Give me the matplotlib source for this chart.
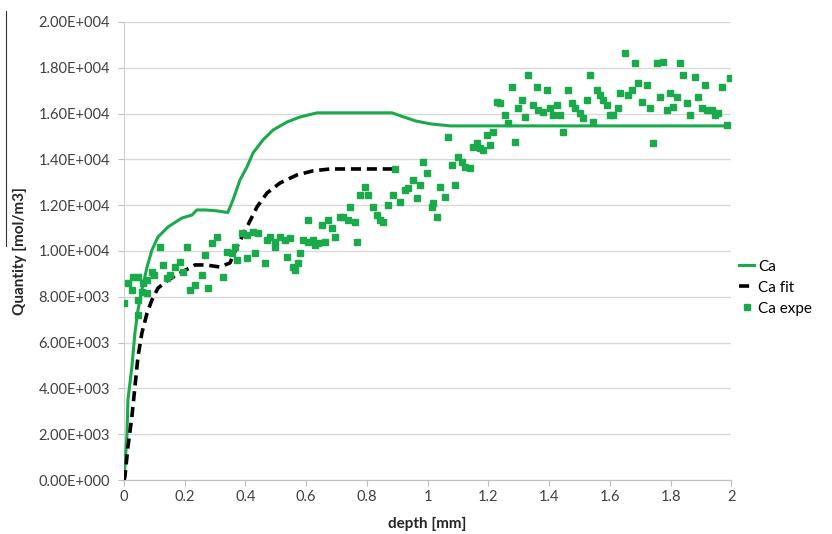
import matplotlib
matplotlib.use('Agg')
import matplotlib.pyplot as plt
from matplotlib.lines import Line2D
from matplotlib.ticker import FuncFormatter

plt.rcParams['font.family'] = ['Lato', 'DejaVu Sans']

# ---- data ----
# Ca : simulated profile
ca_x = [0.0, 0.005, 0.01, 0.013, 0.026, 0.036, 0.046, 0.059, 0.076, 0.092, 0.112,
        0.145, 0.191, 0.224, 0.24, 0.267, 0.30, 0.342, 0.359, 0.382, 0.405, 0.425,
        0.458, 0.491, 0.537, 0.58, 0.636, 0.71, 0.778, 0.883, 0.91, 0.959, 1.008,
        1.074, 1.17, 1.5, 2.0]
ca_y = [0, 1000, 2000, 3500, 4930, 6420, 7420, 8300, 9300, 10040, 10610,
        11050, 11440, 11570, 11790, 11790, 11760, 11680, 12230, 13100, 13670, 14280,
        14850, 15280, 15630, 15850, 16030, 16030, 16030, 16030, 15900, 15680, 15550,
        15460, 15460, 15460, 15460]

# Ca fit : fitted profile
fit_x = [0.0, 0.003, 0.013, 0.026, 0.036, 0.046, 0.059, 0.076, 0.092, 0.112, 0.145,
         0.191, 0.234, 0.27, 0.316, 0.349, 0.372, 0.405, 0.438, 0.471, 0.514, 0.57,
         0.623, 0.679, 0.75, 0.893]
fit_y = [0, 130, 1440, 2750, 4060, 5370, 6420, 7290, 7860, 8380, 8730,
         9080, 9390, 9390, 9300, 9480, 10180, 11050, 11920, 12530, 12970, 13320,
         13500, 13580, 13580, 13580]

# Ca expe : measured points
exp_x = [0.0, 0.013, 0.03, 0.046, 0.026, 0.046, 0.059, 0.076, 0.046, 0.063,
         0.076, 0.092, 0.10, 0.119, 0.128, 0.142, 0.152, 0.168, 0.185, 0.208,
         0.194, 0.217, 0.234, 0.257, 0.277, 0.267, 0.29, 0.306, 0.326, 0.339,
         0.356, 0.372, 0.366, 0.389, 0.405, 0.405, 0.425, 0.432, 0.442, 0.465,
         0.471, 0.481, 0.498, 0.498, 0.514, 0.53, 0.547, 0.537, 0.557, 0.563,
         0.573, 0.58, 0.59, 0.606, 0.606, 0.623, 0.629, 0.639, 0.652, 0.662,
         0.672, 0.685, 0.695, 0.712, 0.722, 0.738, 0.745, 0.761, 0.768, 0.778,
         0.794, 0.804, 0.82, 0.834, 0.843, 0.853, 0.87, 0.886, 0.893, 0.909,
         0.926, 0.936, 0.952, 0.965, 0.975, 0.985, 0.998, 1.015, 1.018, 1.031,
         1.041, 1.058, 1.068, 1.081, 1.091, 1.101, 1.114, 1.124, 1.14, 1.15,
         1.163, 1.173, 1.183, 1.196, 1.206, 1.216, 1.229, 1.239, 1.255, 1.265,
         1.278, 1.288, 1.298, 1.311, 1.321, 1.331, 1.348, 1.361, 1.364, 1.381,
         1.394, 1.404, 1.413, 1.427, 1.437, 1.447, 1.463, 1.476, 1.486, 1.502,
         1.512, 1.526, 1.535, 1.545, 1.558, 1.568, 1.578, 1.591, 1.601, 1.611,
         1.628, 1.634, 1.651, 1.661, 1.674, 1.684, 1.694, 1.707, 1.723, 1.733,
         1.743, 1.756, 1.766, 1.776, 1.789, 1.799, 1.809, 1.822, 1.832, 1.842,
         1.855, 1.865, 1.881, 1.891, 1.904, 1.914, 1.921, 1.937, 1.947, 1.957,
         1.970, 1.987, 1.997]
exp_y = [7730, 8600, 8870, 8870, 8300, 7860, 8210, 8170, 7200, 8600,
         8730, 9080, 8950, 10180, 9390, 8820, 8950, 9300, 9520, 10180,
         9080, 8300, 8520, 8950, 8380, 9830, 10350, 10610, 8870, 9960,
         9910, 9610, 10180, 10790, 10700, 9700, 10830, 9910, 10790, 9480,
         10480, 10610, 10390, 10180, 10610, 10480, 10570, 9740, 9300, 9170,
         9480, 9910, 10480, 11350, 10390, 10480, 10260, 10350, 11140, 10390,
         11350, 11000, 10610, 11490, 11490, 11350, 11920, 11270, 10390, 12450,
         12800, 12450, 11920, 11570, 11350, 11270, 12010, 12450, 13580, 12140,
         12660, 12750, 13100, 12310, 12880, 13890, 13410, 11920, 12100, 11490,
         12800, 12360, 14980, 13760, 12880, 14110, 13890, 13670, 13620, 14540,
         14720, 14500, 14410, 15070, 14630, 15200, 16510, 16460, 15940, 15590,
         17160, 14760, 16250, 16590, 15850, 17690, 16380, 17160, 16160, 16070,
         17030, 16250, 15940, 16380, 15940, 15200, 17030, 16460, 16250, 16030,
         15810, 16590, 17690, 15630, 17030, 16810, 16590, 16380, 15940, 15940,
         16250, 16900, 18650, 16810, 17030, 18210, 17340, 16510, 17250, 16250,
         14720, 18210, 16730, 18250, 16160, 16900, 16290, 16730, 18210, 17690,
         16460, 15940, 17600, 16730, 16250, 17250, 16160, 16160, 15940, 16030,
         17160, 15500, 17560]

x_ticks = [0, 0.2, 0.4, 0.6, 0.8, 1, 1.2, 1.4, 1.6, 1.8, 2]
x_tick_labels = ['0', '0.2', '0.4', '0.6', '0.8', '1', '1.2', '1.4', '1.6', '1.8', '2']
y_ticks = [0, 2000, 4000, 6000, 8000, 10000, 12000, 14000, 16000, 18000, 20000]

GREEN = '#1aaa4b'


def excel_sci(v, pos):
    """Excel style 0.00E+000"""
    if v == 0:
        return '0.00E+000'
    exp = 0
    m = abs(v)
    while m >= 10:
        m /= 10
        exp += 1
    return '%.2fE+%03d' % (m, exp)


fig = plt.figure(figsize=(8.32, 5.34), dpi=100)
ax = fig.add_axes([0.149, 0.101, 0.730, 0.858])

ax.plot(ca_x, ca_y, color=GREEN, lw=2.2, label='Ca', zorder=3)
ax.plot(fit_x, fit_y, color='black', lw=2.6, ls=(0, (2.8, 1.6)), label='Ca fit', zorder=4)
ax.plot(exp_x, exp_y, 's', color=GREEN, markersize=5, ls='none', label='Ca expe', zorder=5)

ax.set_xlim(0, 2)
ax.set_ylim(0, 20000)
ax.set_xticks(x_ticks)
ax.set_xticklabels(x_tick_labels)
ax.set_yticks(y_ticks)
ax.yaxis.set_major_formatter(FuncFormatter(excel_sci))

ax.grid(axis='y', color='#d9d9d9', lw=1.0)
ax.set_axisbelow(True)
for s in ['top', 'right']:
    ax.spines[s].set_visible(False)
ax.spines['left'].set_color('#d0d0d0')
ax.spines['bottom'].set_color('#bfbfbf')
ax.tick_params(axis='both', colors='#bfbfbf', labelcolor='#404040', labelsize=10.5, length=4)
ax.tick_params(axis='y', pad=6)

ax.set_xlabel('depth [mm]', fontsize=11, fontweight='bold', color='#262626', labelpad=9)
ax.set_ylabel('Quantity [mol/m3]', fontsize=11, fontweight='bold', color='#262626', labelpad=8)

ax.legend(loc='center left', bbox_to_anchor=(0.99, 0.42), frameon=False, fontsize=11,
          handlelength=1.0, handletextpad=0.25, labelspacing=0.45)

# stray rule at far left of the scan
fig.add_artist(Line2D([0.007, 0.007], [0.54, 0.98], color='#333333', lw=0.8,
                      transform=fig.transFigure))

fig.savefig('out.png', dpi=100)
